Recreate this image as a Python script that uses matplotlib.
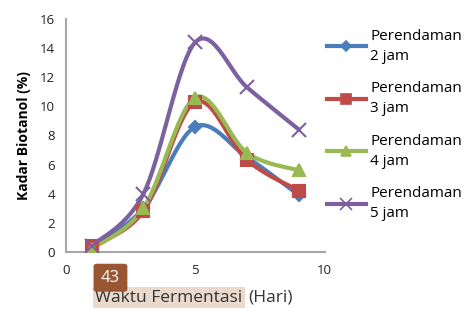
import numpy as np
import matplotlib
matplotlib.use("Agg")
import matplotlib.pyplot as plt
from matplotlib.patches import FancyBboxPatch

# data
hari = [1, 3, 5, 7, 9]
jam2 = [0.3, 3.0, 8.6, 6.5, 3.9]
jam3 = [0.4, 2.8, 10.3, 6.3, 4.2]
jam4 = [0.2, 3.0, 10.6, 6.8, 5.6]
jam5 = [0.4, 4.0, 14.4, 11.3, 8.4]
labels = ["Perendaman\n2 jam", "Perendaman\n3 jam", "Perendaman\n4 jam", "Perendaman\n5 jam"]
colors = ["#4a7ebb", "#be4b48", "#98b954", "#7d60a0"]
markers = ["D", "s", "^", "x"]
msizes = [6.5, 8.5, 9, 10]


def smooth(x, y, n=30):
    # Catmull-Rom curve through the points (Excel-like "smoothed line")
    x = np.asarray(x, float); y = np.asarray(y, float)
    P = np.column_stack([x, y])
    P = np.vstack([P[0], P, P[-1]])
    out = []
    for i in range(1, len(P) - 2):
        p0, p1, p2, p3 = P[i - 1], P[i], P[i + 1], P[i + 2]
        t = np.linspace(0, 1, n)[:, None]
        c = 0.5 * ((2 * p1) + (-p0 + p2) * t + (2 * p0 - 5 * p1 + 4 * p2 - p3) * t ** 2
                   + (-p0 + 3 * p1 - 3 * p2 + p3) * t ** 3)
        out.append(c)
    c = np.vstack(out)
    return c[:, 0], c[:, 1]


plt.rcParams["font.family"] = ["Open Sans", "DejaVu Sans"]
fig = plt.figure(figsize=(4.7, 3.11), dpi=100)
ax = fig.add_axes([0.140, 0.190, 0.551, 0.749])

series = [jam2, jam3, jam4, jam5]
handles = []
for ys, col, mk, ms, lab in zip(series, colors, markers, msizes, labels):
    sx, sy = smooth(hari, ys)
    ax.plot(sx, sy, color=col, lw=3, solid_capstyle="round", zorder=2)
    ax.plot(hari, ys, linestyle="none", marker=mk, color=col, ms=ms, mew=1.5, zorder=3)
    h, = ax.plot([], [], color=col, lw=3, marker=mk, ms=ms * 0.8, mew=1.2, label=lab)
    handles.append(h)

ax.set_xlim(0, 10)
ax.set_ylim(0, 16)
ax.set_xticks([0, 5, 10])
ax.set_yticks(range(0, 17, 2))
ax.tick_params(length=0, labelsize=9.5, colors="#222222")
ax.tick_params(axis="x", pad=9)
ax.tick_params(axis="y", pad=8)
for s in ["top", "right"]:
    ax.spines[s].set_visible(False)
for s in ["left", "bottom"]:
    ax.spines[s].set_color("#a6a6a6")
    ax.spines[s].set_linewidth(1.5)

ax.set_ylabel("Kadar Biotanol (%)", fontsize=10, fontweight="bold", labelpad=6)

# x label: highlighted "Waktu Fermentasi" followed by "(Hari)"
t1 = fig.text(0.203, 0.030, "Waktu Fermentasi", fontsize=12.5, color="#333333",
              bbox=dict(boxstyle="square,pad=0.15", fc="#ead9cd", ec="none"))
fig.canvas.draw()
bb = t1.get_window_extent().transformed(fig.transFigure.inverted())
fig.text(bb.x1 + 0.012, 0.030, "(Hari)", fontsize=12.5, color="#333333")

badge = FancyBboxPatch((0.199, 0.062), 0.072, 0.090, boxstyle="round,pad=0,rounding_size=0.008",
                       transform=fig.transFigure, fc="#9a5632", ec="none", zorder=5)
fig.patches.append(badge)
fig.text(0.235, 0.105, "43", fontsize=12, color="white", ha="center", va="center", zorder=6)

leg = fig.legend(handles=handles, loc="upper left", bbox_to_anchor=(0.690, 0.918), frameon=False,
                 fontsize=11, handlelength=2.5, labelspacing=1.15, handletextpad=0.3,
                 borderaxespad=0, borderpad=0.2)
for txt in leg.get_texts():
    txt.set_linespacing(1.45)

fig.savefig("out.png", dpi=100)
